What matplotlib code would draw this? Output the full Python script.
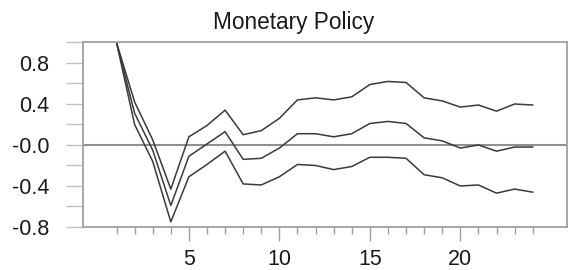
import matplotlib.pyplot as plt
import numpy as np

plt.rcParams['font.family'] = ['Liberation Sans', 'DejaVu Sans']

periods = np.arange(1, 25)
upper = [1.0, 0.42, 0.05, -0.43, 0.08, 0.19, 0.34, 0.10, 0.14, 0.26, 0.44, 0.46,
         0.44, 0.47, 0.59, 0.62, 0.61, 0.46, 0.43, 0.37, 0.39, 0.33, 0.40, 0.39]
mid = [1.0, 0.31, -0.05, -0.59, -0.11, 0.01, 0.13, -0.14, -0.13, -0.03, 0.11, 0.11,
       0.08, 0.11, 0.21, 0.23, 0.21, 0.07, 0.04, -0.03, 0.0, -0.06, -0.02, -0.02]
lower = [1.0, 0.20, -0.16, -0.75, -0.31, -0.19, -0.06, -0.38, -0.39, -0.31, -0.19, -0.20,
         -0.24, -0.21, -0.12, -0.12, -0.13, -0.29, -0.32, -0.40, -0.39, -0.47, -0.43, -0.46]

yticks = [-0.8, -0.4, 0.0, 0.4, 0.8]
ytick_labels = ["-0.8", "-0.4", "-0.0", "0.4", "0.8"]
xticks = [5, 10, 15, 20]

fig = plt.figure(figsize=(5.71, 2.70), dpi=100)
ax = fig.add_axes([0.1448, 0.1593, 0.9925 - 0.1448, 0.8426 - 0.1593])

line_col = "#3a3a3a"
frame_col = "#a0a0a0"

ax.axhline(0, color="#909090", lw=1.5, zorder=1)
for s in (upper, mid, lower):
    ax.plot(periods, s, color=line_col, lw=1.1, zorder=2)

ax.set_xlim(-0.87, 25.88)
ax.set_ylim(-0.8, 1.0)

ax.set_yticks(yticks)
ax.set_yticklabels(ytick_labels)
ax.set_yticks([-0.6, -0.2, 0.2, 0.6, 1.0], minor=True)
ax.set_xticks(xticks)
ax.set_xticks(periods, minor=True)

ax.tick_params(axis='y', which='both', direction='out', length=12, width=1,
               color="#c0c0c0", labelsize=15.5, pad=12, labelcolor="#1a1a1a")
ax.tick_params(axis='x', which='major', direction='out', length=10, width=1,
               color="#a0a0a0", labelsize=15.5, pad=6, labelcolor="#1a1a1a")
ax.tick_params(axis='x', which='minor', direction='out', length=5, width=1,
               color="#a0a0a0")

for sp in ax.spines.values():
    sp.set_color(frame_col)
    sp.set_linewidth(1.3)

fig.text(294 / 571, 1 - 29.5 / 270, "Monetary Policy", ha="center", va="baseline",
         fontsize=16.3, color="#1a1a1a")

fig.savefig("out.png", dpi=100)
